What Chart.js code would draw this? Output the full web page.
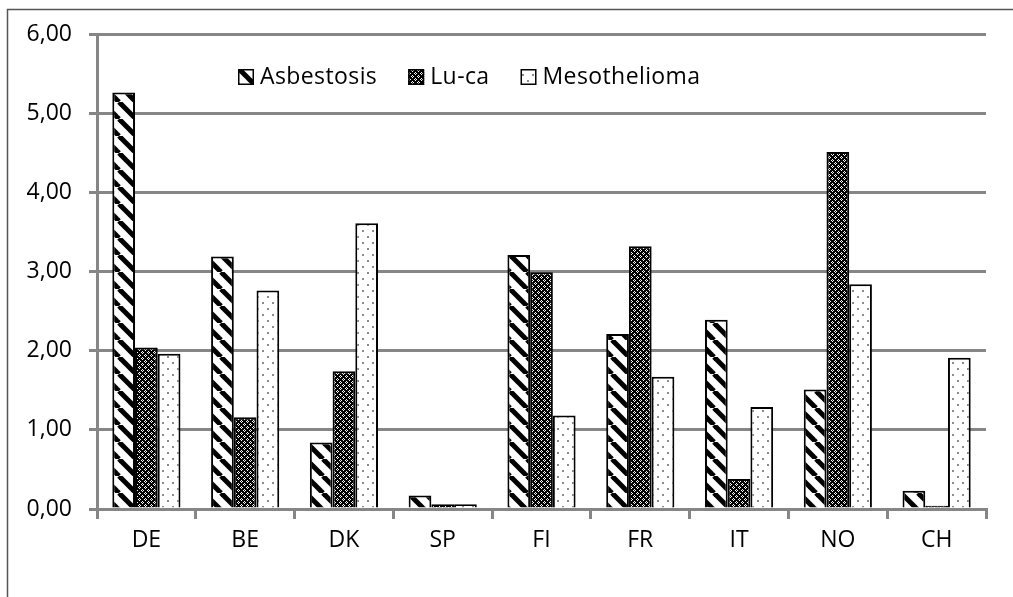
<!DOCTYPE html>
<html>
<head>
<meta charset="utf-8">
<script src="https://cdn.jsdelivr.net/npm/chart.js@4/dist/chart.umd.min.js"></script>
<style>
  html, body { margin: 0; padding: 0; background: #fff; }
  #wrap { width: 1013px; height: 597px; position: relative; }
</style>
</head>
<body>
<div id="wrap"><canvas id="c" width="1013" height="597"></canvas></div>
<script>
// Countries and rates per disease
const categories = ['DE', 'BE', 'DK', 'SP', 'FI', 'FR', 'IT', 'NO', 'CH'];
const asbestosis = [5.26, 3.19, 0.84, 0.17, 3.21, 2.21, 2.39, 1.51, 0.23];
const luCa = [2.04, 1.16, 1.74, 0.06, 2.99, 3.32, 0.38, 4.51, 0.04];
const mesothelioma = [1.96, 2.76, 3.61, 0.06, 1.18, 1.67, 1.29, 2.84, 1.91];
const seriesNames = ['Asbestosis', 'Lu-ca', 'Mesothelioma'];

const FONT = '"Open Sans", "Noto Sans", sans-serif';
const GRID = '#868686';

function makeTile(w, h, draw) {
  const c = document.createElement('canvas');
  c.width = w; c.height = h;
  const g = c.getContext('2d');
  draw(g, w, h);
  return document.getElementById('c').getContext('2d').createPattern(c, 'repeat');
}

// wide black diagonal stripes on white
const stripePattern = makeTile(17, 17, (g, s) => {
  g.fillStyle = '#fff'; g.fillRect(0, 0, s, s);
  g.strokeStyle = '#000'; g.lineWidth = 5;
  for (const x0 of [-s, 0, s]) {
    g.beginPath(); g.moveTo(x0, 0); g.lineTo(x0 + s, s); g.stroke();
  }
});

// dense black lattice with small white diamonds
const latticePattern = makeTile(6, 6, (g, s) => {
  g.fillStyle = '#000'; g.fillRect(0, 0, s, s);
  g.fillStyle = '#fff';
  for (const [x, y] of [[1, 0], [0, 1], [2, 1], [1, 2], [4, 3], [3, 4], [5, 4], [4, 5]]) {
    g.fillRect(x, y, 1, 1);
  }
});

// sparse grey dots on white
const dotPattern = makeTile(10, 12, (g, w, h) => {
  g.fillStyle = '#fff'; g.fillRect(0, 0, w, h);
  g.fillStyle = '#8a8a8a';
  g.fillRect(2, 2, 2, 2);
  g.fillRect(7, 8, 2, 2);
});

const fills = [stripePattern, latticePattern, dotPattern];
const seriesValues = [asbestosis, luCa, mesothelioma];

const datasets = seriesNames.map((name, i) => ({
  label: name,
  data: seriesValues[i],
  backgroundColor: fills[i],
  borderColor: '#000',
  borderWidth: 2,
  borderSkipped: 'bottom',
  categoryPercentage: 0.69,
  barPercentage: 1.0
}));

// frame lines around the figure and the in-plot legend
const decorations = {
  id: 'decorations',
  beforeDraw(chart) {
    const ctx = chart.ctx;
    ctx.save();
    ctx.strokeStyle = '#555';
    ctx.lineWidth = 1.5;
    ctx.beginPath();
    ctx.moveTo(7.5, 597);
    ctx.lineTo(7.5, 9.5);
    ctx.lineTo(1013, 9.5);
    ctx.stroke();
    ctx.restore();
  },
  afterDraw(chart) {
    const ctx = chart.ctx;
    const area = chart.chartArea;
    ctx.save();
    ctx.font = '23px ' + FONT;
    if ('letterSpacing' in ctx) ctx.letterSpacing = '0.4px';
    ctx.textBaseline = 'middle';
    ctx.fillStyle = '#000';
    let x = area.left + 141;
    const yMid = area.top + 43;
    const box = 16;
    chart.data.datasets.forEach((ds) => {
      ctx.fillStyle = ds.backgroundColor;
      ctx.fillRect(x, yMid - box / 2, box, box);
      ctx.strokeStyle = '#000';
      ctx.lineWidth = 1.5;
      ctx.strokeRect(x + 0.75, yMid - box / 2 + 0.75, box - 1.5, box - 1.5);
      ctx.fillStyle = '#000';
      ctx.fillText(ds.label, x + box + 6, yMid);
      x += box + 6 + ctx.measureText(ds.label).width + 31;
    });
    ctx.restore();
  }
};

new Chart(document.getElementById('c'), {
  type: 'bar',
  data: { labels: categories, datasets },
  options: {
    responsive: false,
    animation: false,
    devicePixelRatio: 1,
    layout: { padding: { left: 0, top: 34, right: 27, bottom: 0 } },
    plugins: { legend: { display: false }, tooltip: { enabled: false } },
    scales: {
      x: {
        afterFit(scale) { scale.height = 88; },
        grid: {
          display: true,
          drawOnChartArea: false,
          drawTicks: true,
          tickLength: 10,
          color: GRID,
          lineWidth: 3,
          offset: true
        },
        border: { display: true, color: GRID, width: 3 },
        ticks: { color: '#000', font: { family: FONT, size: 23 }, padding: 8 }
      },
      y: {
        min: 0,
        max: 6,
        afterFit(scale) { scale.width = 97; },
        grid: {
          color: GRID,
          lineWidth: 3,
          drawTicks: true,
          tickLength: 8
        },
        border: { display: true, color: GRID, width: 3 },
        ticks: {
          stepSize: 1,
          color: '#000',
          font: { family: FONT, size: 23 },
          padding: 17,
          callback: (v) => Number(v).toFixed(2).replace('.', ',')
        }
      }
    }
  },
  plugins: [decorations]
});
</script>
</body>
</html>
